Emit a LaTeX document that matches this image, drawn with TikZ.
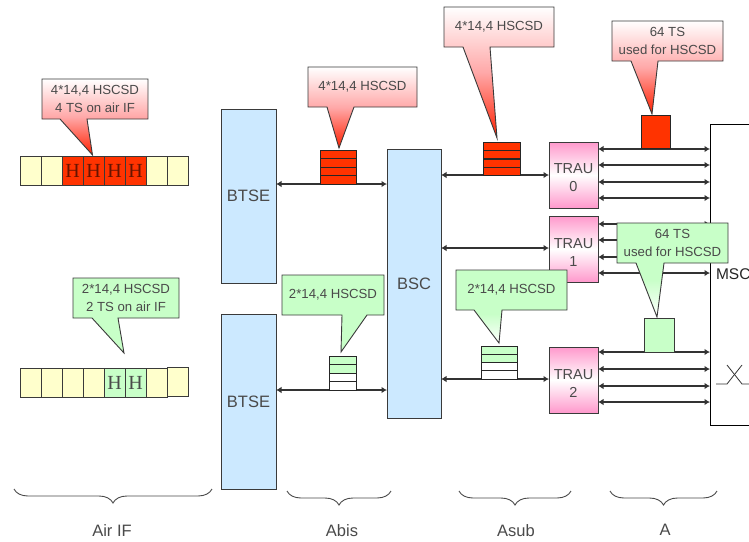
\documentclass[tikz,border=0pt]{standalone}
\usepackage{fontspec}
\setmainfont{Liberation Sans}
\newfontfamily\hfont{Liberation Serif}
\usetikzlibrary{arrows.meta,decorations.pathreplacing}
\definecolor{bluefill}{HTML}{CCE9FF}
\definecolor{yellowfill}{HTML}{FFFFCC}
\definecolor{redfill}{HTML}{FF3300}
\definecolor{greenfill}{HTML}{C8FFC8}
\definecolor{pinkfill}{HTML}{FF99CC}
\definecolor{ink}{HTML}{4A4A4A}
\definecolor{edge}{HTML}{3A3A3A}
\definecolor{tipred}{HTML}{FF2000}
\definecolor{midred}{HTML}{FFA8A8}
\pgfdeclareverticalshading{redfade}{100bp}{color(0bp)=(tipred);color(25bp)=(tipred);color(50bp)=(midred);color(75bp)=(white);color(100bp)=(white)}
\pgfdeclareverticalshading{greenfade}{100bp}{color(0bp)=(white);color(25bp)=(white);color(45bp)=(greenfill);color(100bp)=(greenfill)}
\pgfdeclareverticalshading{pinkband}{100bp}{color(0bp)=(pinkfill);color(25bp)=(pinkfill);color(50bp)=(white);color(75bp)=(pinkfill);color(100bp)=(pinkfill)}
\tikzset{
  x=1pt,y=-1pt,
  every node/.style={inner sep=0pt,outer sep=0pt},
  unitbox/.style={draw=edge,line width=0.9pt,fill=bluefill,text=ink,font=\fontsize{16.5}{18}\selectfont,anchor=north west},
  traubox/.style={draw=edge,line width=0.9pt,shading=pinkband,text=ink,font=\fontsize{14.5}{18}\selectfont,align=center,anchor=north west,minimum width=49pt,minimum height=66pt},
  cell/.style={draw=edge,line width=0.9pt,anchor=north west,minimum width=21pt,minimum height=29pt,text=black!60!redfill,font=\hfont\fontsize{20}{20}\selectfont},
  emptycell/.style={cell,fill=yellowfill},
  redcell/.style={cell,fill=redfill},
  greencell/.style={cell,fill=greenfill,text=ink},
  slot/.style={draw=black!85,line width=0.9pt,anchor=north west},
  link/.style={draw=black!80,line width=1.1pt,{Latex[length=5.5pt,width=6.5pt]}-{Latex[length=5.5pt,width=6.5pt]}},
  outline/.style={draw=edge,line width=0.9pt},
  calloutred/.style={outline,shading=redfade},
  calloutfade/.style={outline,shading=greenfade},
  calloutgreen/.style={outline,fill=greenfill},
  callouttext/.style={text=ink,font=\fontsize{13.2}{18}\selectfont,align=center},
  bracket/.style={draw=ink,line width=0.9pt,decorate,decoration={brace,mirror,amplitude=14pt,aspect=0.5}},
  caption/.style={text=ink,font=\fontsize{16.5}{18}\selectfont},
}
% name, x1,y1,x2,y2, tail left x, tip x, tip y, tail right x, style, text
\newcommand{\hscallout}[9]{%
  \def\hsname{#1}\def\hsxa{#2}\def\hsya{#3}\def\hsxb{#4}\def\hsyb{#5}\def\hsta{#6}\def\hstx{#7}\def\hsty{#8}\def\hstb{#9}\hscalloutrest}
\newcommand{\hscalloutrest}[2]{%
  \path[#1] (\hsxa,\hsya) -- (\hsxb,\hsya) -- (\hsxb,\hsyb) -- (\hstb,\hsyb) -- (\hstx,\hsty) -- (\hsta,\hsyb) -- (\hsxa,\hsyb) -- cycle;
  \node[callouttext] (\hsname) at ({(\hsxa+\hsxb)/2},{(\hsya+\hsyb)/2}) {#2};}
\newcommand{\traustrut}{\rule{0pt}{16pt}}
\begin{document}
\begin{tikzpicture}
\useasboundingbox (0,0) rectangle (749,541);
\clip (0,0) rectangle (749,541);
\fill[white] (0,0) rectangle (749,541);

% air interface bars
\foreach \i/\s in {0/emptycell,1/emptycell,6/emptycell,7/emptycell}
  \node[\s] (upper\i) at ({20+21*\i},156) {};
\foreach \i in {2,3,4,5}
  \node[redcell] (upper\i) at ({20+21*\i},156) {H};
\foreach \i in {0,1,2,3,6}
  \node[emptycell] (lower\i) at ({20+21*\i},368) {};
\node[emptycell] (lower7) at (167,367) {};
\foreach \i in {4,5}
  \node[greencell] (lower\i) at ({20+21*\i},368) {H};

% main units
\node[unitbox,minimum width=55pt,minimum height=174pt] (btsea) at (221,109) {BTSE};
\node[unitbox,minimum width=55pt,minimum height=175pt] (btseb) at (221,314) {BTSE};
\node[unitbox,minimum width=54pt,minimum height=269pt] (bsc) at (387,149) {BSC};

% MSC, open towards the right
\node[anchor=north west,minimum width=80pt,minimum height=301pt] (msc) at (710,124) {};
\draw[draw=black,line width=0.9pt] (msc.north east) -- (msc.north west) -- (msc.south west) -- (msc.south east);
\node[anchor=west,text=black!85,font=\fontsize{15.5}{18}\selectfont] (msclabel) at (716,274) {MSC};
\coordinate (swa) at (716,384);
\coordinate (swb) at (727,384);
\coordinate (swc) at (742,365);
\coordinate (swd) at (727,365);
\coordinate (swe) at (742,384);
\coordinate (swf) at (749,384);
\draw[black!80,line width=0.8pt] (swa) -- (swb) -- (swc);
\draw[black!80,line width=0.8pt] (swd) -- (swe) -- (swf);

% TRAUs
\node[traubox] (trau0) at (549,142) {\traustrut TRAU\\0};
\node[traubox] (trau1) at (549,216) {\traustrut TRAU\\1};
\node[traubox] (trau2) at (549,347) {\traustrut TRAU\\2};

% links
\draw[link] (btsea.east |- 0,184) -- (bsc.west |- 0,184);
\draw[link] (btseb.east |- 0,390) -- (bsc.west |- 0,390);
\draw[link] (bsc.east |- 0,175) -- (trau0.west |- 0,175);
\draw[link] (bsc.east |- 0,248) -- (trau1.west |- 0,248);
\draw[link] (bsc.east |- 0,379) -- (trau2.west |- 0,379);
\foreach \y in {149,165,182,198}
  \draw[link] (trau0.east |- 0,\y) -- (msc.west |- 0,\y);
\foreach \y in {224,240,257,273}
  \draw[link] (trau1.east |- 0,\y) -- (msc.west |- 0,\y);
\foreach \y in {352,369,386,402}
  \draw[link] (trau2.east |- 0,\y) -- (msc.west |- 0,\y);

% timeslot stacks
\foreach \i/\y in {0/150,1/158.5,2/167,3/175.5}
  \node[slot,fill=redfill,minimum width=36pt,minimum height=8.5pt] (abisred\i) at (320,\y) {};
\foreach \i/\y in {0/142,1/150.5,2/159,3/167}
  \node[slot,fill=redfill,minimum width=37pt,minimum height=8.3pt] (asubred\i) at (483,\y) {};
\foreach \i/\y/\c in {0/356/greenfill,1/364.5/greenfill,2/373/white,3/381.5/white}
  \node[slot,fill=\c,minimum width=27pt,minimum height=8.5pt] (abisgreen\i) at (329,\y) {};
\foreach \i/\y/\c in {0/346/greenfill,1/354.3/greenfill,2/362.6/white,3/370.9/white}
  \node[slot,fill=\c,minimum width=36pt,minimum height=8.3pt] (asubgreen\i) at (481,\y) {};
\node[slot,fill=redfill,minimum width=29pt,minimum height=33pt] (ared) at (641,115) {};
\node[slot,draw=edge,fill=greenfill,minimum width=30pt,minimum height=34pt] (agreen) at (644,318) {};

% callouts
\hscallout{ca}{42}{79}{148}{119}{60}{92.5}{155}{87}{calloutred}{4*14,4 HSCSD\\4 TS on air IF}
\hscallout{cb}{73}{278}{179}{318}{92}{124}{353}{118}{calloutgreen}{2*14,4 HSCSD\\2 TS on air IF}
\hscallout{cc}{308}{67}{417}{107}{327}{339}{148}{354}{calloutred}{4*14,4 HSCSD}
\hscallout{cd}{282}{275}{384}{315}{342}{341}{352}{367}{calloutgreen}{2*14,4 HSCSD}
\hscallout{ce}{444}{7}{554}{47}{463}{497}{138}{490}{calloutred}{4*14,4 HSCSD}
\hscallout{cf}{456}{270}{567}{310}{474}{499}{343}{502}{calloutfade}{2*14,4 HSCSD}
\hscallout{cg}{612}{21}{723}{61}{631}{652}{114}{658}{calloutred}{64 TS\\used for HSCSD}
\hscallout{ch}{617}{223}{728}{263}{636}{657}{317}{664}{calloutfade}{64 TS\\used for HSCSD}

% braces and captions
\coordinate (ba) at (14,489); \coordinate (bb) at (212,489);
\coordinate (bc) at (287,491); \coordinate (bd) at (391,491);
\coordinate (be) at (459,491); \coordinate (bf) at (571,491);
\coordinate (bg) at (610,491); \coordinate (bh) at (717,491);
\draw[bracket] (ba) -- (bb);
\draw[bracket] (bc) -- (bd);
\draw[bracket] (be) -- (bf);
\draw[bracket] (bg) -- (bh);
\node[caption] (capair) at (112,531) {Air IF};
\node[caption] (capabis) at (342,531) {Abis};
\node[caption] (capasub) at (516,531) {Asub};
\node[caption] (capa) at (665,530) {A};
\end{tikzpicture}
\end{document}
